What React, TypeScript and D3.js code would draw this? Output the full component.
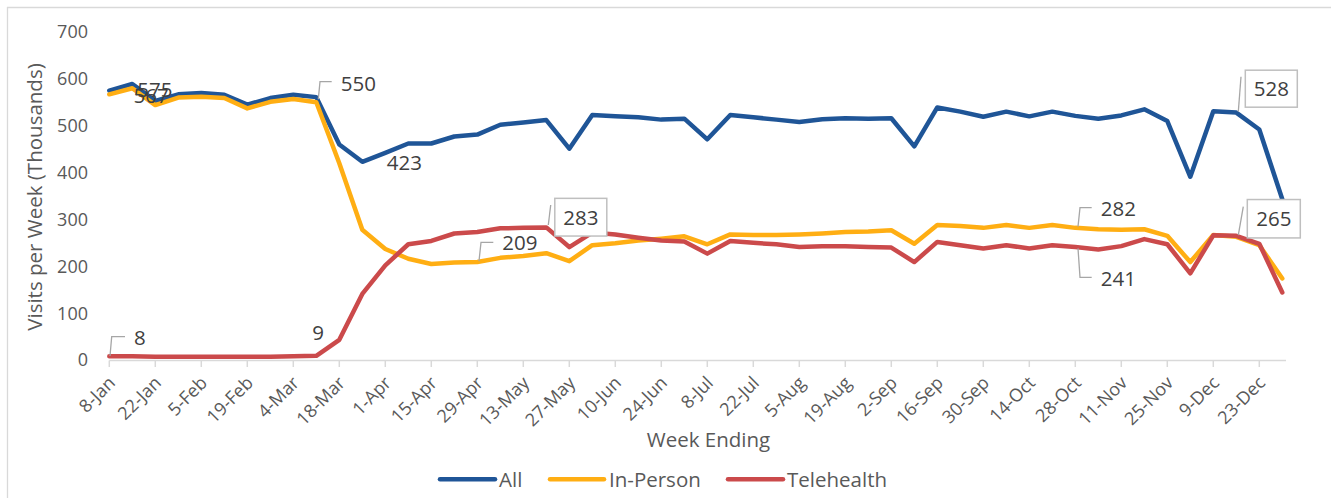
import React from "react";
import * as d3 from "d3";

const weeks = [
  "8-Jan","15-Jan","22-Jan","29-Jan","5-Feb","12-Feb","19-Feb","26-Feb",
  "4-Mar","11-Mar","18-Mar","25-Mar","1-Apr","8-Apr","15-Apr","22-Apr","29-Apr",
  "6-May","13-May","20-May","27-May","3-Jun","10-Jun","17-Jun","24-Jun",
  "1-Jul","8-Jul","15-Jul","22-Jul","29-Jul","5-Aug","12-Aug","19-Aug","26-Aug",
  "2-Sep","9-Sep","16-Sep","23-Sep","30-Sep","7-Oct","14-Oct","21-Oct","28-Oct",
  "4-Nov","11-Nov","18-Nov","25-Nov","2-Dec","9-Dec","16-Dec","23-Dec","30-Dec",
];

const allVisits = [
  575, 589, 553, 567, 570, 566, 545, 559, 566, 561,
  460, 423, 442, 462, 462, 477, 481, 502, 507, 512,
  451, 523, 520, 518, 513, 515, 471, 523, 518, 513,
  508, 514, 516, 515, 516, 456, 539, 530, 519, 530,
  520, 530, 521, 515, 522, 535, 510, 391, 531, 528,
  492, 343,
];

const inPerson = [
  567, 580, 544, 560, 562, 559, 537, 551, 557, 550,
  420, 278, 237, 216, 205, 208, 209, 218, 222, 228,
  211, 245, 249, 255, 259, 264, 247, 268, 267, 267,
  268, 270, 273, 274, 277, 248, 288, 286, 282, 288,
  282, 288, 282, 279, 278, 279, 265, 209, 267, 263,
  245, 174,
];

const telehealth = [
  8, 8, 7, 7, 7, 7, 7, 7, 8, 9,
  43, 141, 202, 247, 254, 270, 273, 281, 282, 283,
  241, 272, 268, 261, 255, 253, 227, 254, 250, 247,
  241, 243, 243, 241, 240, 209, 252, 245, 238, 245,
  238, 245, 241, 236, 243, 258, 247, 185, 266, 265,
  248, 144,
];

const yTicks = [0, 100, 200, 300, 400, 500, 600, 700];
const tickWeeks = weeks.filter((_, i) => i % 2 === 0);

const seriesNames = ["All", "In-Person", "Telehealth"];
const seriesValues = [allVisits, inPerson, telehealth];
const seriesColors = ["#1F5597", "#FFAE13", "#CB4A4B"];

type Ann = {
  s: number;
  w: string;
  dx: number;
  dy: number;
  anchor: "start" | "middle";
  box?: [number, number];
  leader?: [number, number][];
};

const annotations: Ann[] = [
  { s: 0, w: "8-Jan", dx: 28, dy: -0.6, anchor: "start" },
  { s: 1, w: "8-Jan", dx: 24.3, dy: 1.2, anchor: "start" },
  { s: 1, w: "11-Mar", dx: 24.4, dy: -18.3, anchor: "start", leader: [[2, -3], [3.7, -20.6], [15.4, -20.6]] },
  { s: 0, w: "25-Mar", dx: 24.4, dy: 0.7, anchor: "start" },
  { s: 2, w: "8-Jan", dx: 24.7, dy: -18.3, anchor: "start", leader: [[0.7, -0.3], [2.4, -19.6], [15.7, -19.6]] },
  { s: 2, w: "11-Mar", dx: 1.7, dy: -22.8, anchor: "middle" },
  { s: 1, w: "29-Apr", dx: 25, dy: -19, anchor: "start", leader: [[1.7, -1], [3.7, -19.7], [16, -19.7]] },
  { s: 2, w: "20-May", dx: 34.5, dy: -10.2, anchor: "middle", box: [52, 37.7], leader: [[2, -2.4], [4.4, -22.4]] },
  { s: 0, w: "16-Dec", dx: 35, dy: -23.9, anchor: "middle", box: [52, 37], leader: [[2, -0.9], [4.7, -35.9]] },
  { s: 1, w: "28-Oct", dx: 25.4, dy: -19.6, anchor: "start", leader: [[2.7, -1.2], [4.7, -20.2], [16.4, -20.2]] },
  { s: 2, w: "28-Oct", dx: 25.4, dy: 31.3, anchor: "start", leader: [[2.7, 1.3], [4.7, 30.3], [16.4, 30.3]] },
  { s: 2, w: "16-Dec", dx: 37.5, dy: -17.1, anchor: "middle", box: [53, 38.4], leader: [[2, -0.8], [7, -29.1]] },
];

const FONT = "'Open Sans', sans-serif";

export default function App() {
  const W = 1331;
  const H = 498;
  const x = d3.scalePoint<string>().domain(weeks).range([109.3, 1282.3]);
  const y = d3.scaleLinear().domain([0, 700]).range([360, 32]);
  const line = d3
    .line<number>()
    .x((_, i) => x(weeks[i]) as number)
    .y((d) => y(d));

  const legendItems = [
    { x1: 440, x2: 495, tx: 499 },
    { x1: 550, x2: 604, tx: 609 },
    { x1: 728, x2: 783, tx: 787 },
  ];

  return (
    <svg
      width={W}
      height={H}
      style={{ position: "absolute", left: 0, top: 0, background: "#fff" }}
      fontFamily={FONT}
    >
      <rect x={0} y={0} width={W} height={H} fill="#fff" />
      <line x1={7.5} y1={7} x2={7.5} y2={H} stroke="#D9D9D9" strokeWidth={1.3} />
      <line x1={7} y1={7.5} x2={W} y2={7.5} stroke="#D9D9D9" strokeWidth={1.3} />

      {yTicks.map((t) => (
        <text key={t} x={88} y={y(t)} dy="0.36em" textAnchor="end" fontSize={18} fill="#595959">
          {t}
        </text>
      ))}

      <line x1={x(weeks[0])} y1={360.5} x2={1286} y2={360.5} stroke="#D9D9D9" strokeWidth={1.5} />
      {tickWeeks.map((w) => (
        <line key={w} x1={x(w)} x2={x(w)} y1={360.5} y2={367} stroke="#D9D9D9" strokeWidth={1.5} />
      ))}
      {tickWeeks.map((w) => {
        const px = (x(w) as number) + 7;
        const py = 384;
        return (
          <text
            key={"l" + w}
            transform={`translate(${px},${py}) rotate(-45)`}
            textAnchor="end"
            fontSize={18}
            fill="#595959"
          >
            {w}
          </text>
        );
      })}

      <text x={708.5} y={446.7} textAnchor="middle" fontSize={20.5} fill="#595959">
        Week Ending
      </text>
      <text
        transform={`translate(35,197) rotate(-90)`}
        dy="0.36em"
        textAnchor="middle"
        fontSize={20.5}
        fill="#595959"
      >
        Visits per Week (Thousands)
      </text>

      {seriesValues.map((vals, k) => (
        <path
          key={seriesNames[k]}
          d={line(vals) || ""}
          fill="none"
          stroke={seriesColors[k]}
          strokeWidth={4.5}
          strokeLinejoin="round"
          strokeLinecap="round"
        />
      ))}

      {annotations.map((a, idx) => {
        const i = weeks.indexOf(a.w);
        const v = seriesValues[a.s][i];
        const px = x(a.w) as number;
        const py = y(v);
        const tx = px + a.dx;
        const ty = py + a.dy;
        return (
          <g key={idx}>
            {a.leader && (
              <polyline
                points={a.leader.map(([lx, ly]) => `${px + lx},${py + ly}`).join(" ")}
                fill="none"
                stroke="#A6A6A6"
                strokeWidth={1.3}
              />
            )}
            {a.box && (
              <rect
                x={tx - a.box[0] / 2}
                y={ty - a.box[1] / 2}
                width={a.box[0]}
                height={a.box[1]}
                fill="#fff"
                stroke="#BFBFBF"
                strokeWidth={1.5}
              />
            )}
            <text x={tx} y={ty} dy="0.36em" textAnchor={a.anchor} fontSize={20.5} fill="#404040">
              {v}
            </text>
          </g>
        );
      })}

      {legendItems.map((l, k) => (
        <g key={"lg" + k}>
          <line
            x1={l.x1}
            x2={l.x2}
            y1={479.3}
            y2={479.3}
            stroke={seriesColors[k]}
            strokeWidth={4.5}
            strokeLinecap="round"
          />
          <text x={l.tx} y={479.3} dy="0.36em" fontSize={20.5} fill="#595959">
            {seriesNames[k]}
          </text>
        </g>
      ))}
    </svg>
  );
}
